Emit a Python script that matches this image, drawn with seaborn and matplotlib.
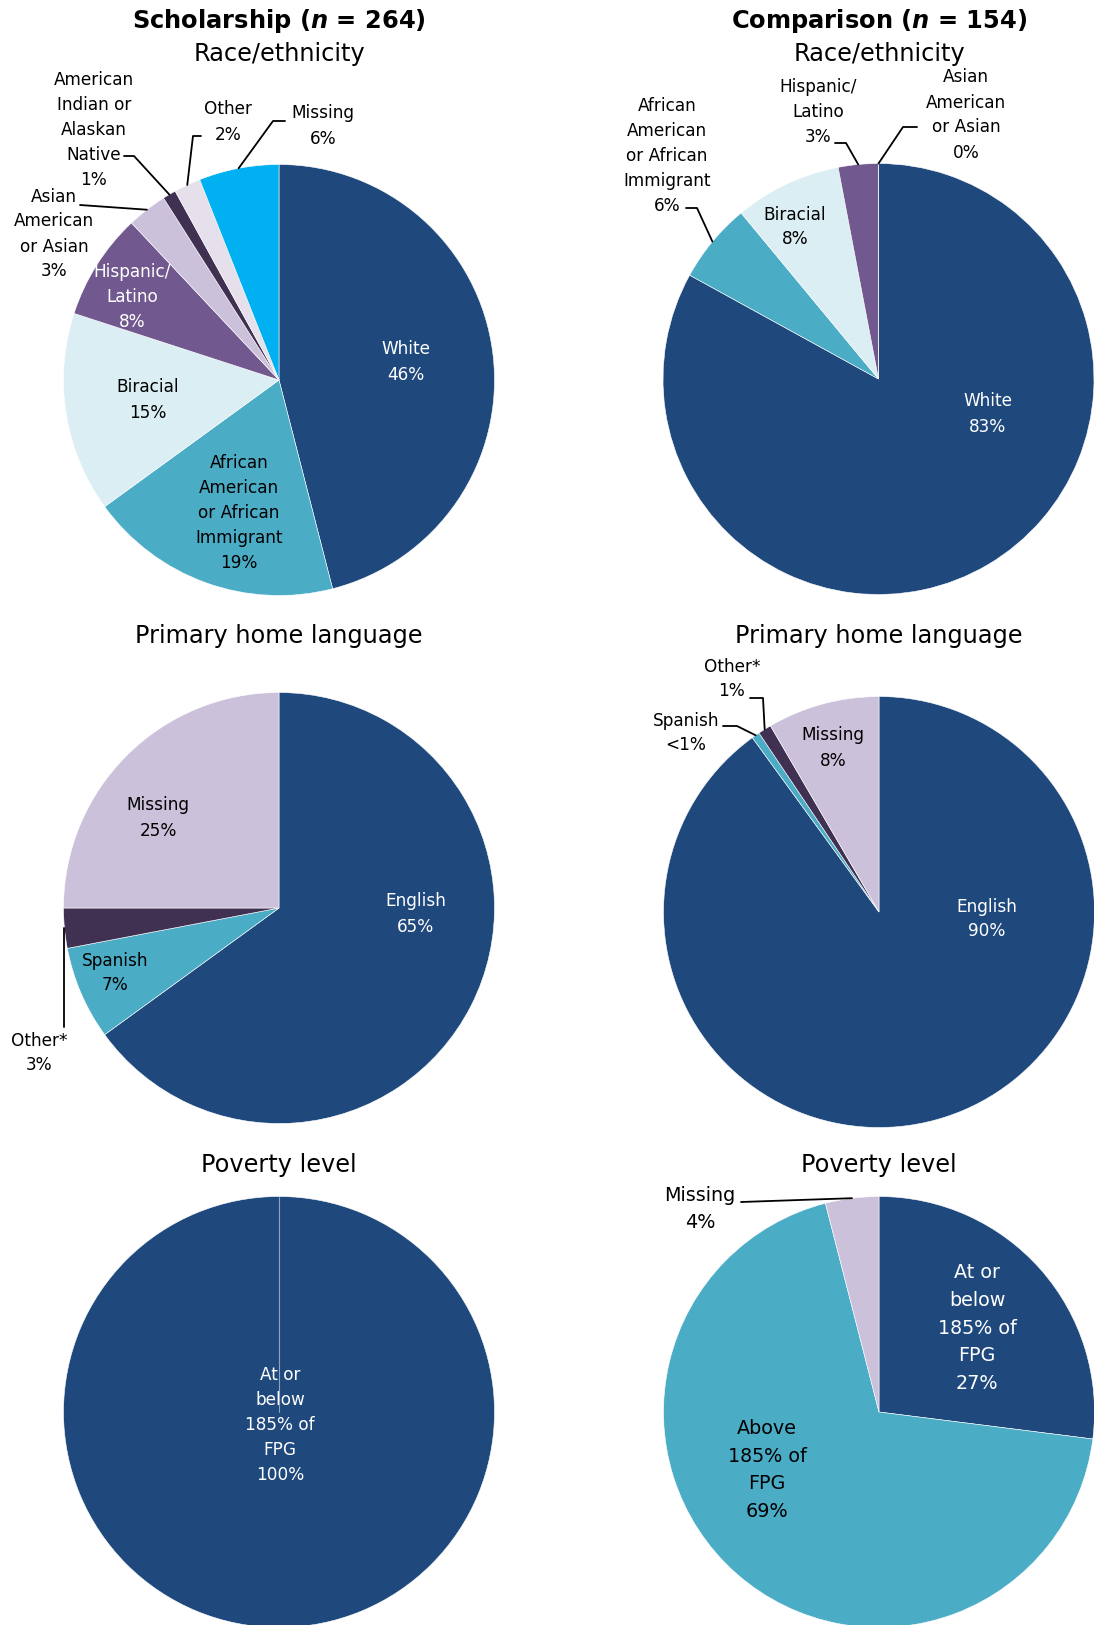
import numpy as np
import matplotlib
matplotlib.use("Agg")
import matplotlib.pyplot as plt
import seaborn as sns
from matplotlib.transforms import Affine2D
from matplotlib.lines import Line2D

# ---------------- data ----------------
# Scholarship (n = 264) - Race/ethnicity (clockwise from 12 o'clock)
sch_race_cats = ["White", "African American or African Immigrant", "Biracial",
                 "Hispanic/Latino", "Asian American or Asian",
                 "American Indian or Alaskan Native", "Other", "Missing"]
sch_race_vals = [46, 19, 15, 8, 3, 1, 2, 6]
sch_race_text = ["White\n46%", "African\nAmerican\nor African\nImmigrant\n19%",
                 "Biracial\n15%", "Hispanic/\nLatino\n8%",
                 "Asian\nAmerican\nor Asian\n3%",
                 "American\nIndian or\nAlaskan\nNative\n1%", "Other\n2%",
                 "Missing\n6%"]

# Comparison (n = 154) - Race/ethnicity
cmp_race_cats = ["White", "African American or African Immigrant", "Biracial",
                 "Hispanic/Latino", "Asian American or Asian"]
cmp_race_vals = [83, 6, 8, 3, 0]
cmp_race_text = ["White\n83%", "African\nAmerican\nor African\nImmigrant\n6%",
                 "Biracial\n8%", "Hispanic/\nLatino\n3%",
                 "Asian\nAmerican\nor Asian\n0%"]

# Primary home language
sch_lang_cats = ["English", "Spanish", "Other*", "Missing"]
sch_lang_vals = [65, 7, 3, 25]
sch_lang_text = ["English\n65%", "Spanish\n7%", "Other*\n3%", "Missing\n25%"]

cmp_lang_cats = ["English", "Spanish", "Other*", "Missing"]
cmp_lang_vals = [90, 0.6, 1, 8.4]
cmp_lang_text = ["English\n90%", "Spanish\n<1%", "Other*\n1%", "Missing\n8%"]

# Poverty level
sch_pov_cats = ["At or below 185% of FPG"]
sch_pov_vals = [100]
sch_pov_text = ["At or\nbelow\n185% of\nFPG\n100%"]

cmp_pov_cats = ["At or below 185% of FPG", "Above 185% of FPG", "Missing"]
cmp_pov_vals = [27, 69, 4]
cmp_pov_text = ["At or\nbelow\n185% of\nFPG\n27%", "Above\n185% of\nFPG\n69%",
                "Missing\n4%"]

# ---------------- style ----------------
NAVY = "#1F497D"
TEAL = "#4BACC6"
LIGHTBLUE = "#DBEEF4"
PURPLE = "#71598F"
LAVENDER = "#CCC1DA"
DARKPURPLE = "#403152"
PALELAV = "#E6E0EC"
CYAN = "#00B0F0"

sns.set_theme(style="white")
plt.rcParams["font.family"] = ["DejaVu Sans"]
plt.rcParams["text.color"] = "black"
plt.rcParams["mathtext.fontset"] = "custom"
plt.rcParams["mathtext.it"] = "DejaVu Sans:italic:bold"
plt.rcParams["mathtext.rm"] = "DejaVu Sans:bold"

W, H = 1094, 1625
fig = plt.figure(figsize=(W / 100, H / 100), dpi=100)
fig.patch.set_facecolor("white")
T = Affine2D().scale(1.0 / W, -1.0 / H).translate(0, 1) + fig.transFigure

R = 215.5
LS = 1.5


def draw_pie(cx, cy, vals, colors):
    ax = fig.add_axes([(cx - R) / W, 1 - (cy + R) / H, 2 * R / W, 2 * R / H])
    wedges, _ = ax.pie(vals, colors=colors, startangle=90, counterclock=False,
                       radius=1, normalize=True,
                       wedgeprops=dict(edgecolor="white", linewidth=0.4))
    ax.set_xlim(-1, 1)
    ax.set_ylim(-1, 1)
    ax.set_aspect("equal")
    ax.axis("off")
    for w in wedges:
        w.set_clip_on(False)
    return wedges


def edge_pt(cx, cy, wedge):
    a = np.deg2rad((wedge.theta1 + wedge.theta2) / 2.0)
    return cx + R * np.cos(a), cy - R * np.sin(a)


def label(x, y, s, color="black", size=12.2, ls=LS):
    fig.text(x, y, s, transform=T, ha="center", va="center",
             multialignment="center", fontsize=size, color=color,
             linespacing=ls)


def leader(pts, cx, cy, wedge):
    ex, ey = edge_pt(cx, cy, wedge)
    xs = [p[0] for p in pts] + [ex]
    ys = [p[1] for p in pts] + [ey]
    fig.add_artist(Line2D(xs, ys, transform=T, color="black", lw=1.3))


def title(x, y, s, **kw):
    fig.text(x, y, s, transform=T, ha="center", va="center", color="black", **kw)


# ---------------- titles ----------------
title(279, 21, r"Scholarship ($n$ = 264)", fontsize=17.4, fontweight="bold")
title(879, 21, r"Comparison ($n$ = 154)", fontsize=17.4, fontweight="bold")
for x in (279, 879):
    title(x, 54, "Race/ethnicity", fontsize=17.3)
    title(x, 636, "Primary home language", fontsize=17.3)
    title(x, 1165, "Poverty level", fontsize=17.3)

# ---------------- pie 1: scholarship race ----------------
c1 = (279, 380)
w1 = draw_pie(*c1, sch_race_vals,
              [NAVY, TEAL, LIGHTBLUE, PURPLE, LAVENDER, DARKPURPLE, PALELAV, CYAN])
label(406, 362, sch_race_text[0], color="white")
label(239, 513, sch_race_text[1])
label(148, 400, sch_race_text[2])
label(132, 297, sch_race_text[3], color="white")
label(54, 234, sch_race_text[4])
label(94, 130, sch_race_text[5])
label(228, 122, sch_race_text[6])
label(323, 126, sch_race_text[7])
leader([(285, 121), (273, 121)], *c1, w1[7])
leader([(201, 136), (193, 136)], *c1, w1[6])
leader([(124, 156), (134, 156)], *c1, w1[5])
leader([(80, 205)], *c1, w1[4])

# ---------------- pie 2: comparison race ----------------
c2 = (878.5, 379)
w2 = draw_pie(*c2, cmp_race_vals, [NAVY, TEAL, LIGHTBLUE, PURPLE, LAVENDER])
label(988, 414, cmp_race_text[0], color="white")
label(667, 156, cmp_race_text[1])
label(795, 227, cmp_race_text[2])
label(818, 112, cmp_race_text[3])
label(966, 115, cmp_race_text[4])
leader([(686, 208), (697, 208)], *c2, w2[1])
leader([(835, 143), (846, 143)], *c2, w2[3])
leader([(917, 127), (903, 127)], *c2, w2[4])

# ---------------- pie 3: scholarship language ----------------
c3 = (279, 908)
w3 = draw_pie(*c3, sch_lang_vals, [NAVY, TEAL, DARKPURPLE, LAVENDER])
label(416, 914, sch_lang_text[0], color="white")
label(115, 973, sch_lang_text[1])
label(39, 1053, sch_lang_text[2])
label(158, 818, sch_lang_text[3])
ex, ey = edge_pt(*c3, w3[2])
fig.add_artist(Line2D([ex, ex], [1027, ey], transform=T, color="black", lw=1.3))

# ---------------- pie 4: comparison language ----------------
c4 = (879, 912)
w4 = draw_pie(*c4, cmp_lang_vals, [NAVY, TEAL, DARKPURPLE, LAVENDER])
label(987, 919, cmp_lang_text[0], color="white")
label(686, 733, cmp_lang_text[1])
label(732, 679, cmp_lang_text[2])
label(833, 748, cmp_lang_text[3])
leader([(723, 726), (737, 726)], *c4, w4[1])
leader([(750, 698), (763, 698)], *c4, w4[2])

# ---------------- pie 5: scholarship poverty ----------------
c5 = (279, 1412)
w5 = draw_pie(*c5, sch_pov_vals, [NAVY])
a0 = np.deg2rad(w5[0].theta1)
fig.add_artist(Line2D([c5[0], c5[0] + R * np.cos(a0)],
                      [c5[1], c5[1] - R * np.sin(a0)],
                      transform=T, color="#8EA3BF", lw=0.8))
label(280, 1425, sch_pov_text[0], color="white")

# ---------------- pie 6: comparison poverty ----------------
c6 = (879, 1412)
w6 = draw_pie(*c6, cmp_pov_vals, [NAVY, TEAL, LAVENDER])
label(977, 1328, cmp_pov_text[0], color="white", size=13.8, ls=1.58)
label(767, 1470, cmp_pov_text[1], size=13.8, ls=1.58)
label(700, 1209, cmp_pov_text[2], size=13.8, ls=1.58)
leader([(741, 1202)], *c6, w6[2])

fig.savefig("out.png", dpi=100, facecolor="white")
